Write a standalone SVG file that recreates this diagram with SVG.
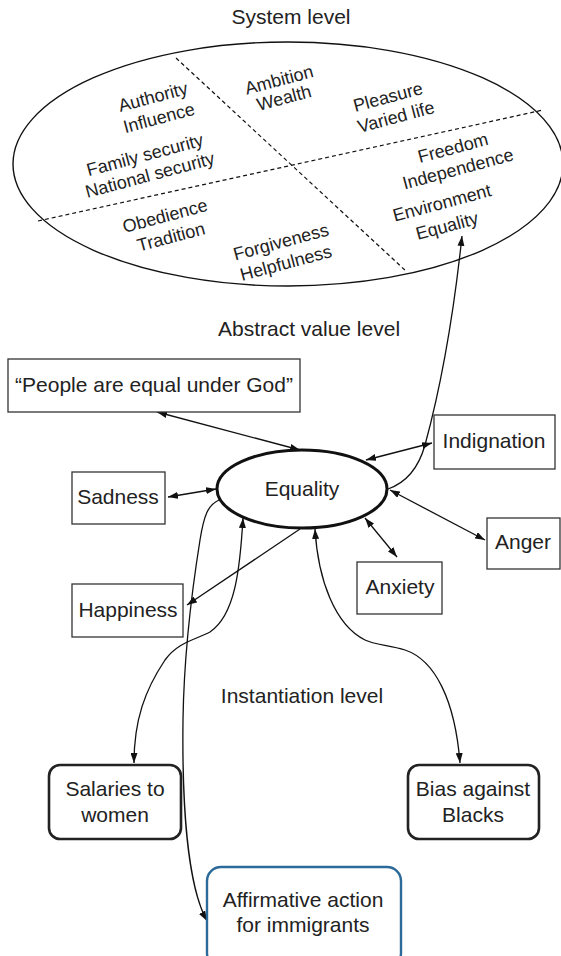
<svg xmlns="http://www.w3.org/2000/svg" width="561" height="956" viewBox="0 0 561 956">
<style>
text{font-family:"Liberation Sans",Arial,sans-serif;fill:#222;}
.lbl{font-size:21px;text-anchor:middle;}
.val{font-size:18px;text-anchor:middle;}
.box{fill:#fff;stroke:#333;stroke-width:1.3;}
.rbox{fill:#fff;stroke:#222;stroke-width:2.6;}
.con{fill:none;stroke:#111;stroke-width:1.3;}
.dash{fill:none;stroke:#111;stroke-width:1.2;stroke-dasharray:4 3;}
</style>
<defs>
<marker id="ah" viewBox="0 0 10 7" refX="10" refY="3.5" markerWidth="10" markerHeight="7" markerUnits="userSpaceOnUse" orient="auto-start-reverse">
<path d="M0,0 L10,3.5 L0,7 z" fill="#111"/>
</marker>
</defs>
<rect width="561" height="956" fill="#fff"/>

<g id="system-level">
<text class="lbl" x="291" y="24">System level</text>
<ellipse cx="288" cy="164" rx="275" ry="122" fill="none" stroke="#111" stroke-width="1.4"/>
<line class="dash" x1="176" y1="58" x2="407" y2="272"/>
<line class="dash" x1="38" y1="221" x2="543" y2="110"/>
<g class="val">
<text class="val" transform="translate(153 97) rotate(-15)" y="6">Authority</text>
<text class="val" transform="translate(159 118) rotate(-15)" y="6">Influence</text>
<text class="val" transform="translate(145 155) rotate(-15)" y="6">Family security</text>
<text class="val" transform="translate(150 175) rotate(-15)" y="6">National security</text>
<text class="val" transform="translate(165 216) rotate(-15)" y="6">Obedience</text>
<text class="val" transform="translate(171 237) rotate(-15)" y="6">Tradition</text>
<text class="val" transform="translate(279 80) rotate(-15)" y="6">Ambition</text>
<text class="val" transform="translate(284 98) rotate(-15)" y="6">Wealth</text>
<text class="val" transform="translate(388 97) rotate(-15)" y="6">Pleasure</text>
<text class="val" transform="translate(396 117) rotate(-15)" y="6">Varied life</text>
<text class="val" transform="translate(453 148) rotate(-15)" y="6">Freedom</text>
<text class="val" transform="translate(458 169) rotate(-15)" y="6">Independence</text>
<text class="val" transform="translate(442 203) rotate(-15)" y="6">Environment</text>
<text class="val" transform="translate(447 226) rotate(-15)" y="6">Equality</text>
<text class="val" transform="translate(281 242) rotate(-15)" y="6">Forgiveness</text>
<text class="val" transform="translate(286 263) rotate(-15)" y="6">Helpfulness</text>
</g>
</g>

<text class="lbl" x="309" y="336">Abstract value level</text>
<text class="lbl" x="302" y="703">Instantiation level</text>

<g id="connectors">
<path class="con" d="M157 412 L300 450" marker-start="url(#ah)" marker-end="url(#ah)"/>
<path class="con" d="M432 443 L366 460" marker-start="url(#ah)" marker-end="url(#ah)"/>
<path class="con" d="M168 497 L216 489" marker-start="url(#ah)" marker-end="url(#ah)"/>
<path class="con" d="M390 490 L485 540" marker-start="url(#ah)" marker-end="url(#ah)"/>
<path class="con" d="M365 518 L397 557" marker-start="url(#ah)" marker-end="url(#ah)"/>
<path class="con" d="M300 529 L187 605" marker-end="url(#ah)"/>
<path class="con" d="M388 489 C405 483 418 470 425 445 C440 390 452 330 462 236" marker-end="url(#ah)"/>
<path class="con" d="M219 500 C208 505 204 515 200 540 C192 590 184 650 183 720 C182 800 187 885 207 921" marker-end="url(#ah)"/>
<path class="con" d="M243 518 C240 570 235 615 210 632 C195 640 178 642 165 660 C145 690 134 720 134 763" marker-start="url(#ah)" marker-end="url(#ah)"/>
<path class="con" d="M315 529 C318 580 335 625 365 640 C375 645 390 645 405 650 C435 660 455 700 460 763" marker-start="url(#ah)" marker-end="url(#ah)"/>
</g>

<g id="people">
<rect class="box" x="8" y="359" width="292" height="53"/>
<text class="lbl" x="154" y="392">“People are equal under God”</text>
</g>
<g id="indignation">
<rect class="box" x="434" y="415" width="121" height="54"/>
<text class="lbl" x="494" y="448">Indignation</text>
</g>
<g id="equality">
<ellipse cx="302" cy="489" rx="85" ry="39" fill="#fff" stroke="#111" stroke-width="3"/>
<text class="lbl" x="302" y="496">Equality</text>
</g>
<g id="sadness">
<rect class="box" x="72" y="472" width="93" height="52"/>
<text class="lbl" x="118" y="504">Sadness</text>
</g>
<g id="anger">
<rect class="box" x="487" y="518" width="73" height="51"/>
<text class="lbl" x="523" y="549">Anger</text>
</g>
<g id="anxiety">
<rect class="box" x="357" y="562" width="85" height="52"/>
<text class="lbl" x="400" y="594">Anxiety</text>
</g>
<g id="happiness">
<rect class="box" x="72" y="584" width="111" height="53"/>
<text class="lbl" x="128" y="617">Happiness</text>
</g>
<g id="salaries">
<rect class="rbox" x="49" y="765" width="132" height="74" rx="11"/>
<text class="lbl" x="115" y="796">Salaries to</text>
<text class="lbl" x="115" y="822">women</text>
</g>
<g id="bias">
<rect class="rbox" x="408" y="765" width="131" height="74" rx="11"/>
<text class="lbl" x="473" y="796">Bias against</text>
<text class="lbl" x="473" y="822">Blacks</text>
</g>
<g id="affirmative">
<rect x="207" y="867" width="194" height="100" rx="14" fill="#fff" stroke="#2b6a99" stroke-width="2.4"/>
<text class="lbl" x="303" y="907">Affirmative action</text>
<text class="lbl" x="303" y="932">for immigrants</text>
</g>
</svg>
